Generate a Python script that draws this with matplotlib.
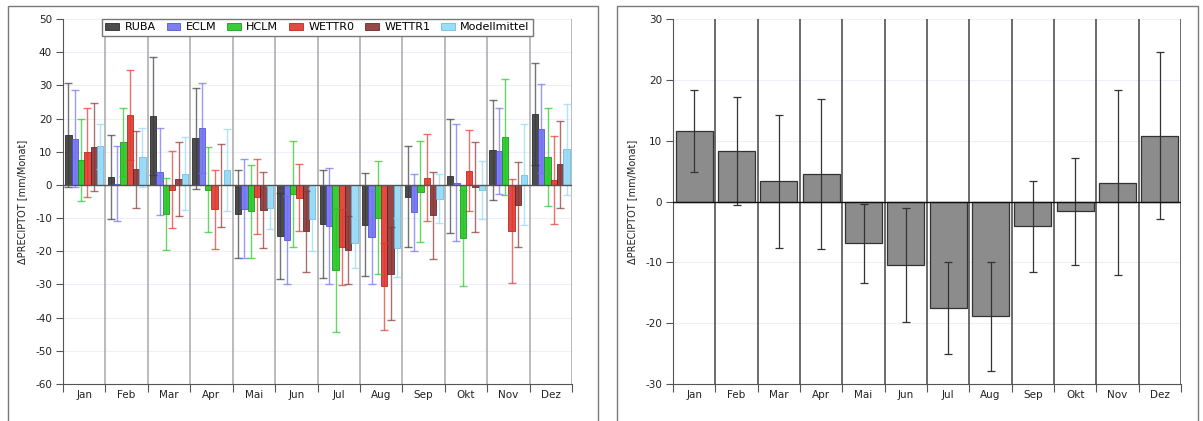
import matplotlib
matplotlib.use("Agg")
import matplotlib.pyplot as plt
from matplotlib.patches import Rectangle, Patch
import numpy as np

plt.rcParams['font.family'] = ['DejaVu Sans']
plt.rcParams['axes.unicode_minus'] = False

months = ['Jan', 'Feb', 'Mar', 'Apr', 'Mai', 'Jun', 'Jul', 'Aug', 'Sep', 'Okt', 'Nov', 'Dez']

ruba = [15.0, 2.3, 20.8, 14.0, -8.8, -15.4, -11.8, -12.0, -3.5, 2.7, 10.5, 21.3]
ruba_err = [15.6, 12.6, 17.7, 15.2, 13.2, 13.0, 16.4, 15.6, 15.1, 17.1, 15.0, 15.3]

eclm = [13.9, 0.3, 4.0, 17.2, -7.2, -16.6, -12.4, -15.8, -8.2, 0.7, 10.2, 17.0]
eclm_err = [14.6, 11.3, 13.2, 13.6, 14.9, 13.4, 17.4, 14.0, 11.6, 17.7, 12.9, 13.3]

hclm = [7.5, 12.9, -8.8, -1.4, -8.0, -2.7, -25.6, -9.9, -2.0, -16.0, 14.5, 8.4]
hclm_err = [12.3, 10.2, 10.9, 12.8, 13.9, 15.9, 18.7, 17.0, 15.2, 14.6, 17.5, 14.7]

wettr0 = [9.9, 21.1, -1.4, -7.4, -3.5, -3.8, -18.8, -30.6, 2.2, 4.3, -13.9, 1.4]
wettr0_err = [13.4, 13.5, 11.6, 11.8, 11.3, 10.1, 11.4, 13.2, 13.0, 12.2, 15.8, 13.3]

wettr1 = [11.4, 4.7, 1.8, -0.1, -7.5, -13.9, -19.7, -26.8, -9.1, -0.6, -6.0, 6.2]
wettr1_err = [13.3, 11.6, 11.2, 12.5, 11.4, 12.2, 10.3, 14.0, 13.1, 13.6, 12.8, 13.1]

modell = [11.6, 8.3, 3.3, 4.5, -6.9, -10.4, -17.5, -18.9, -4.1, -1.6, 3.1, 10.8]
modell_err = [6.8, 8.8, 11.0, 12.3, 6.5, 9.4, 7.5, 8.9, 7.5, 8.8, 15.2, 13.7]

series_names = ['RUBA', 'ECLM', 'HCLM', 'WETTR0', 'WETTR1', 'Modellmittel']
series_vals = [ruba, eclm, hclm, wettr0, wettr1, modell]
series_errs = [ruba_err, eclm_err, hclm_err, wettr0_err, wettr1_err, modell_err]
series_colors = ['#3a3a3a', '#7070f2', '#22c822', '#e2362c', '#8a3434', '#92d9f7']
series_edges = ['#202020', '#4a4ad0', '#129012', '#b01d16', '#5e1e1e', '#5fb8e0']

ylabel = 'ΔPRECIPTOT [mm/Monat]'

W, H = 1203, 421
fig = plt.figure(figsize=(W / 100, H / 100), dpi=100)

# panel frames
for x0, x1 in [(8, 598), (617, 1198)]:
    fig.add_artist(Rectangle((x0 / W, -0.05), (x1 - x0) / W, 1.05 - 6 / H,
                             transform=fig.transFigure, fill=False,
                             edgecolor='#7a7a7a', linewidth=1.0))

ax_bottom = 1 - 384 / H
ax_height = (384 - 19) / H
ax1 = fig.add_axes([63 / W, ax_bottom, (572 - 63) / W, ax_height])
ax2 = fig.add_axes([673 / W, ax_bottom, (1181 - 673) / W, ax_height])

x = np.arange(12) + 0.5


def style_axes(ax, ymin, ymax, vline_color):
    ax.set_xlim(0, 12)
    ax.set_ylim(ymin, ymax)
    for s in ['top', 'right']:
        ax.spines[s].set_visible(False)
    ax.spines['left'].set_color('#555555')
    ax.spines['bottom'].set_color('#555555')
    ax.set_yticks(np.arange(ymin, ymax + 1, 10))
    for yv in np.arange(ymin, ymax + 1, 10):
        ax.axhline(yv, color='#edf0fa', lw=0.8, zorder=0)
    for b in range(1, 13):
        ax.axvline(b, color=vline_color, lw=1.1, zorder=1)
    ax.set_xticks(np.arange(13))
    ax.set_xticklabels([])
    ax.set_xticks(x, minor=True)
    ax.set_xticklabels(months, minor=True)
    ax.tick_params(axis='x', which='major', direction='out', length=6,
                   color='#555555')
    ax.tick_params(axis='x', which='minor', length=0, pad=4, labelsize=7.5,
                   labelcolor='#222222')
    ax.tick_params(axis='y', direction='out', length=5, color='#555555',
                   labelsize=7.5, labelcolor='#222222', pad=3)
    ax.set_ylabel(ylabel, fontsize=7, color='#222222', labelpad=6)


# left: individual models
style_axes(ax1, -60, 50, '#a8a8a8')
bw = 0.149
for i, (name, vals, errs, col, ec) in enumerate(zip(series_names, series_vals,
                                                    series_errs, series_colors,
                                                    series_edges)):
    xi = x + (i - 2.5) * bw
    ax1.bar(xi, vals, width=bw, color=col, edgecolor=ec, linewidth=0.6,
            alpha=0.9, zorder=3)
    ax1.errorbar(xi, vals, yerr=errs, fmt='none', ecolor=col, elinewidth=1.0,
                 capsize=2.6, capthick=1.0, alpha=0.7, zorder=4)
ax1.axhline(0, color='#555555', lw=1.0, zorder=5)

handles = [Patch(facecolor=c, edgecolor=e, linewidth=0.6, alpha=0.9)
           for c, e in zip(series_colors, series_edges)]
leg = ax1.legend(handles, series_names, loc='upper center', ncol=6,
                 bbox_to_anchor=(0.5, 1.0), fontsize=8, frameon=True,
                 fancybox=False, edgecolor='#777777', framealpha=1.0,
                 handlelength=1.2, handleheight=0.7, handletextpad=0.5,
                 columnspacing=1.0, borderpad=0.3, borderaxespad=0.0)
leg.get_frame().set_linewidth(1.0)
leg.set_zorder(10)

# right: model mean
style_axes(ax2, -30, 30, '#444444')
ax2.bar(x, modell, width=0.88, color='#8c8c8c', edgecolor='#333333',
        linewidth=0.9, zorder=3)
ax2.errorbar(x, modell, yerr=modell_err, fmt='none', ecolor='#333333',
             elinewidth=0.9, capsize=3.2, capthick=0.9, zorder=4)
ax2.axhline(0, color='#111111', lw=1.0, zorder=5)

fig.savefig('out.png', dpi=100)
